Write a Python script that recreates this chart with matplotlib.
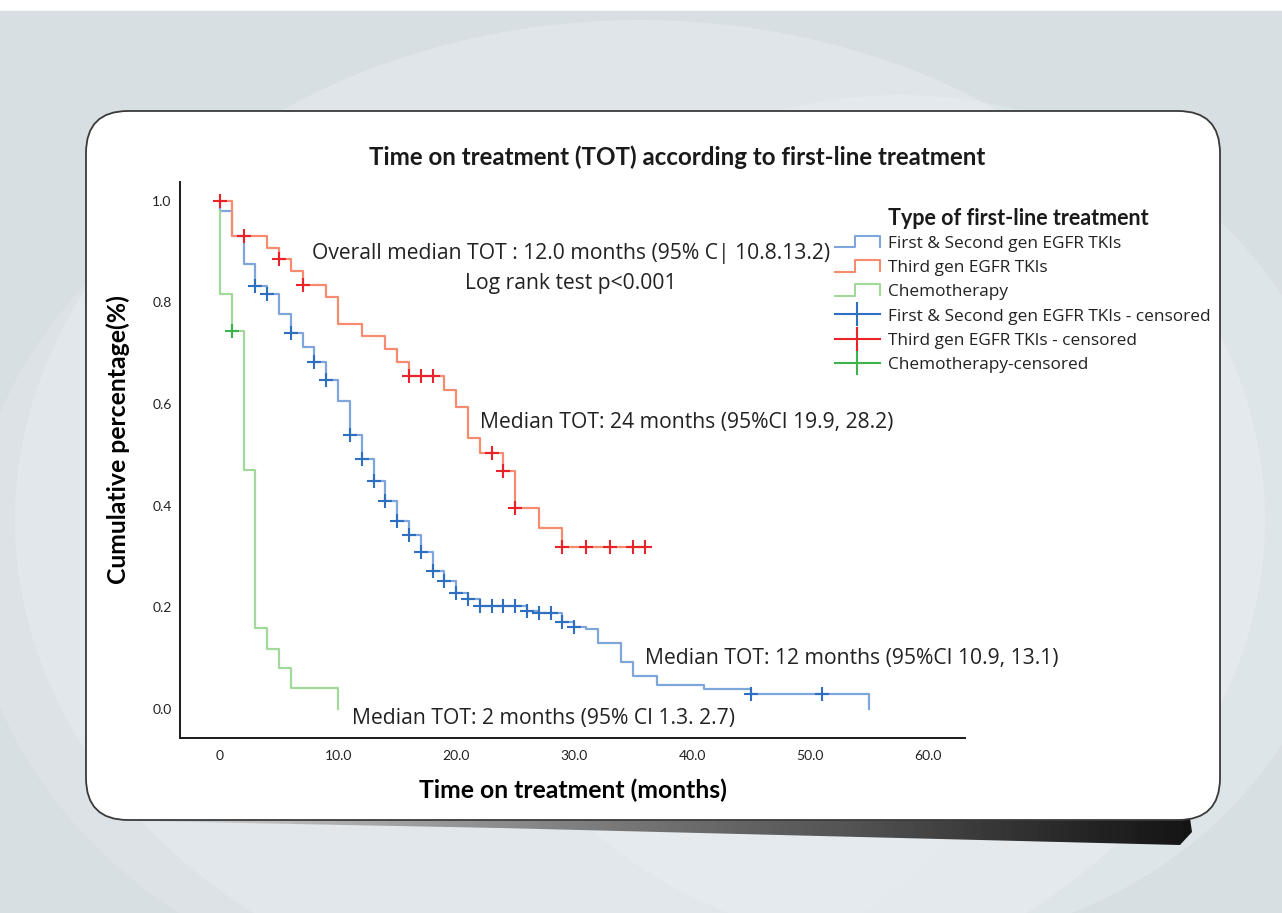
import numpy as np
import matplotlib
matplotlib.use("Agg")
import matplotlib.pyplot as plt
from matplotlib.patches import FancyBboxPatch, Ellipse, Polygon
from matplotlib.lines import Line2D
from matplotlib.legend_handler import HandlerBase

# ---- data (months, cumulative proportion) ----
# First & second gen EGFR TKIs
t_tki12 = [0, 0, 1, 2, 3, 4, 5, 6, 7, 8, 9, 10, 11, 12, 13, 14, 15, 16, 17, 18,
           19, 20, 21, 22, 26, 27, 29, 30, 31, 32, 34, 35, 37, 41, 45, 55]
s_tki12 = [1.0, 0.98, 0.931, 0.875, 0.833, 0.817, 0.778, 0.740, 0.713, 0.683,
           0.648, 0.606, 0.539, 0.491, 0.449, 0.409, 0.370, 0.342, 0.308, 0.271,
           0.251, 0.229, 0.216, 0.203, 0.193, 0.188, 0.172, 0.162, 0.157, 0.129,
           0.093, 0.065, 0.047, 0.039, 0.029, 0.0]
c_tki12_t = [3, 4, 6, 8, 9, 11, 12, 13, 14, 15, 16, 17, 18, 19, 20, 21, 22, 23,
             24, 25, 26, 27, 28, 29, 30, 45, 51]
c_tki12_s = [0.833, 0.817, 0.740, 0.683, 0.648, 0.539, 0.491, 0.449, 0.409, 0.370,
             0.342, 0.308, 0.271, 0.251, 0.229, 0.216, 0.203, 0.203, 0.203, 0.203,
             0.193, 0.188, 0.188, 0.172, 0.162, 0.029, 0.029]

# Third gen EGFR TKIs
t_tki3 = [0, 1, 4, 5, 6, 7, 9, 10, 12, 14, 15, 16, 19, 20, 21, 22, 24, 25, 27, 29, 36]
s_tki3 = [1.0, 0.931, 0.907, 0.885, 0.861, 0.835, 0.810, 0.758, 0.734, 0.709,
          0.682, 0.656, 0.628, 0.595, 0.534, 0.503, 0.469, 0.396, 0.356, 0.318, 0.318]
c_tki3_t = [0, 2, 5, 7, 16, 17, 18, 23, 24, 25, 29, 31, 33, 35, 36]
c_tki3_s = [1.0, 0.931, 0.885, 0.835, 0.656, 0.656, 0.656, 0.503, 0.469, 0.396,
            0.318, 0.318, 0.318, 0.318, 0.318]

# Chemotherapy
t_chemo = [0, 0, 1, 2, 3, 4, 5, 6, 10]
s_chemo = [0.98, 0.816, 0.743, 0.470, 0.159, 0.119, 0.080, 0.041, 0.0]
c_chemo_t = [1]
c_chemo_s = [0.743]

labels = ["First & Second gen EGFR TKIs", "Third gen EGFR TKIs", "Chemotherapy",
          "First & Second gen EGFR TKIs - censored", "Third gen EGFR TKIs - censored",
          "Chemotherapy-censored"]

line_cols = ["#7fa6dc", "#f58c70", "#a2d99b"]
cens_cols = ["#2f6fc2", "#e8232a", "#3db34b"]

W, H = 1282, 913
fig = plt.figure(figsize=(W / 100, H / 100), dpi=100)
fig.patch.set_facecolor("white")

# ---- background / card (pixel coordinates) ----
bg = fig.add_axes([0, 0, 1, 1], zorder=-1)
bg.set_xlim(0, W)
bg.set_ylim(H, 0)
bg.axis("off")
bg.add_patch(plt.Rectangle((0, 11), W, H - 11, color="#d8dfe2", zorder=0))
for cx, cy, w, h, a in [(640, 520, 1250, 1000, 0.35), (900, 520, 900, 850, 0.3),
                        (520, 560, 1100, 900, 0.2), (700, 440, 700, 500, 0.25)]:
    bg.add_patch(Ellipse((cx, cy), w, h, color="#eef3f7", alpha=a, lw=0, zorder=1))

# shadow under the card
grad = np.linspace(0, 1, 256) ** 0.8
grad = np.vstack([grad, grad])
shadow = Polygon([(140, 818), (1190, 818), (1192, 832), (1180, 845), (900, 838),
                  (500, 828), (140, 821)], closed=True, transform=bg.transData)
im = bg.imshow(grad, cmap="Greys", extent=(140, 1195, 848, 818), aspect="auto",
               vmin=-0.35, vmax=1.1, zorder=2)
im.set_clip_path(shadow)
bg.set_xlim(0, W)
bg.set_ylim(H, 0)

card = FancyBboxPatch((86, 111), 1134, 709, boxstyle="round,pad=0,rounding_size=42",
                      fc="white", ec="#3a3a3a", lw=1.3, zorder=3)
bg.add_patch(card)

# ---- main plot ----
ax = fig.add_axes([180 / W, 1 - 738 / H, 785 / W, 556 / H])
ax.patch.set_alpha(0)

ax.step(t_tki12, s_tki12, where="post", color=line_cols[0], lw=1.6)
ax.step(t_tki3, s_tki3, where="post", color=line_cols[1], lw=1.6)
ax.step(t_chemo, s_chemo, where="post", color=line_cols[2], lw=1.6)
ax.plot(c_tki12_t, c_tki12_s, "+", color=cens_cols[0], ms=10, mew=1.5)
ax.plot(c_tki3_t, c_tki3_s, "+", color=cens_cols[1], ms=10, mew=1.5)
ax.plot(c_chemo_t, c_chemo_s, "+", color=cens_cols[2], ms=10, mew=1.5)

ax.set_xlim(-3.39, 63.1)
ax.set_ylim(-0.057, 1.037)
ax.set_xticks([0, 10, 20, 30, 40, 50, 60])
ax.set_xticklabels(["0", "10.0", "20.0", "30.0", "40.0", "50.0", "60.0"])
ax.set_yticks([0, 0.2, 0.4, 0.6, 0.8, 1.0])
ax.set_yticklabels(["0.0", "0.2", "0.4", "0.6", "0.8", "1.0"])
ax.tick_params(length=0, labelsize=10, labelcolor="#222222")
ax.tick_params(axis="x", pad=9)
ax.tick_params(axis="y", pad=6)
for lab in ax.get_xticklabels() + ax.get_yticklabels():
    lab.set_family("Lato")
for s in ["top", "right"]:
    ax.spines[s].set_visible(False)
for s in ["left", "bottom"]:
    ax.spines[s].set_linewidth(1.4)
    ax.spines[s].set_color("#1a1a1a")

ax.set_xlabel("Time on treatment (months)", fontsize=17.8, fontweight="bold",
              family="Lato", va="center")
ax.xaxis.set_label_coords(0.5, -(790 - 738) / 556)
ax.set_ylabel("Cumulative percentage(%)", fontsize=17.8, fontweight="bold",
              family="Lato", va="center")
ax.yaxis.set_label_coords(-(180 - 118) / 785, (738 - 440) / 556)

fig.text(677 / W, 1 - 157 / H, "Time on treatment (TOT) according to first-line treatment",
         ha="center", va="center", fontsize=17.4, fontweight="bold", family="Lato",
         color="#1a1a1a")

tf = dict(family="Open Sans", fontsize=15.2, color="#222222", va="center")
ax.text(29.7, 0.896, "Overall median TOT : 12.0 months (95% C| 10.8.13.2)", ha="center", **tf)
ax.text(29.7, 0.838, "Log rank test p<0.001", ha="center", **tf)
ax.text(22.0, 0.563, "Median TOT: 24 months (95%CI 19.9, 28.2)", ha="left", **tf)
ax.text(36.0, 0.100, "Median TOT: 12 months (95%CI 10.9, 13.1)", ha="left", **tf)
ax.text(11.2, -0.018, "Median TOT: 2 months (95% CI 1.3. 2.7)", ha="left", **tf)


# ---- legend ----
class StepHandler(HandlerBase):
    def create_artists(self, legend, orig_handle, xdescent, ydescent, width, height,
                       fontsize, trans):
        x0 = -xdescent
        y0 = -ydescent
        xs = [x0, x0 + 0.45 * width, x0 + 0.45 * width, x0 + width, x0 + width]
        ys = [y0 + 0.05 * height, y0 + 0.05 * height, y0 + 1.0 * height,
              y0 + 1.0 * height, y0 + 0.1 * height]
        ln = Line2D(xs, ys, color=orig_handle.get_color(), lw=1.5, transform=trans)
        return [ln]


handles = [Line2D([], [], color=c) for c in line_cols]
handles += [Line2D([], [], color=c, lw=1.5, marker="|", ms=17, mew=1.5) for c in cens_cols]
hmap = {h: StepHandler() for h in handles[:3]}
leg = fig.legend(handles, labels, handler_map=hmap, loc="upper left",
                 bbox_to_anchor=(835 / W, 1 - 236 / H), frameon=False, borderpad=0,
                 borderaxespad=0, handlelength=2.6, handletextpad=0.45,
                 labelspacing=0.47, prop={"family": "Open Sans", "size": 12.4})
for t in leg.get_texts():
    t.set_color("#222222")

fig.text(888 / W, 1 - 218 / H, "Type of first-line treatment", ha="left", va="center",
         fontsize=15.5, fontweight="bold", family="Lato", color="#1a1a1a")

fig.savefig("out.png", dpi=100)
